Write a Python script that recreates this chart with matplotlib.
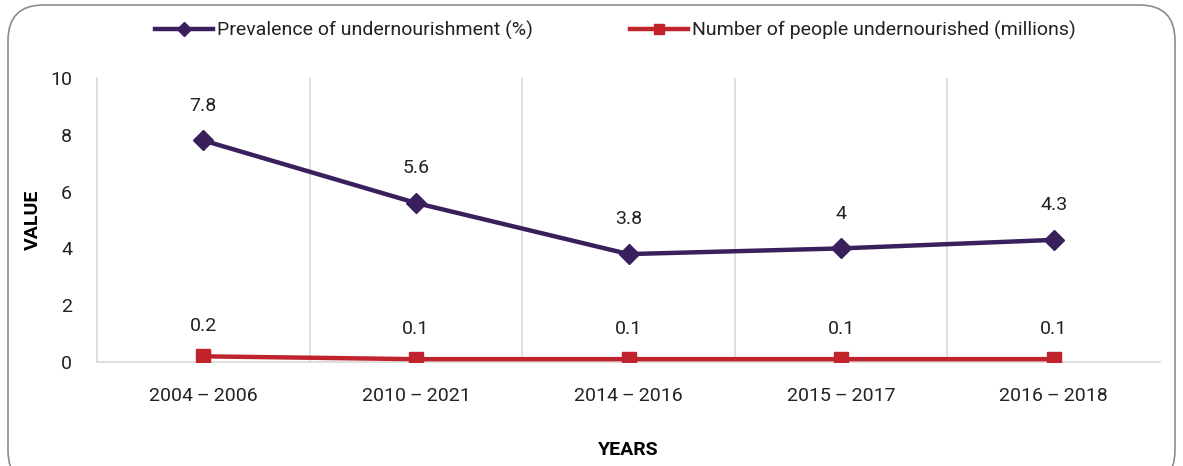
import matplotlib
matplotlib.use("Agg")
import matplotlib.pyplot as plt
from matplotlib.patches import FancyBboxPatch
from matplotlib import font_manager

categories = ["2004\u2009\u2013\u20092006", "2010\u2009\u2013\u20092021", "2014\u2009\u2013\u20092016",
              "2015\u2009\u2013\u20092017", "2016\u2009\u2013\u20092018"]
prevalence = [7.8, 5.6, 3.8, 4.0, 4.3]
prevalence_labels = ["7.8", "5.6", "3.8", "4", "4.3"]
people = [0.2, 0.1, 0.1, 0.1, 0.1]
people_labels = ["0.2", "0.1", "0.1", "0.1", "0.1"]

names = {f.name for f in font_manager.fontManager.ttflist}
fam = ['Liberation Sans Narrow', 'DejaVu Sans'] if 'Liberation Sans Narrow' in names else ['Roboto', 'DejaVu Sans']
plt.rcParams['font.family'] = fam

PURPLE = "#3a1f5d"
RED = "#c1232d"
TXT = "#222222"

fig = plt.figure(figsize=(11.83, 4.66), dpi=100)
W, H = 1183, 466
ax = fig.add_axes([97 / W, 1 - 362 / H, (1160 - 97) / W, (362 - 78) / H])

x = list(range(len(categories)))
ax.plot(x, prevalence, color=PURPLE, lw=3.2, marker="D", ms=10, label="Prevalence of undernourishment (%)", zorder=3)
ax.plot(x, people, color=RED, lw=3.2, marker="s", ms=10, label="Number of people undernourished (millions)", zorder=3)

for xi, v, lab in zip(x, prevalence, prevalence_labels):
    ax.annotate(lab, (xi, v), xytext=(0, 25), textcoords="offset points", ha="center", va="center", fontsize=14, color=TXT)
for xi, v, lab in zip(x, people, people_labels):
    ax.annotate(lab, (xi, v), xytext=(0, 22), textcoords="offset points", ha="center", va="center", fontsize=14, color=TXT)

ax.set_xlim(-0.5, len(categories) - 0.5)
ax.set_ylim(0, 10)
ax.set_yticks([0, 2, 4, 6, 8, 10])
ax.set_xticks(x)
ax.set_xticklabels(categories)
ax.tick_params(axis="both", length=0, labelsize=14, colors=TXT)
ax.tick_params(axis="y", pad=18)
ax.tick_params(axis="x", pad=18)

for b in [0.5, 1.5, 2.5, 3.5]:
    ax.axvline(b, color="#d9d9d9", lw=1.2, zorder=1)
for s in ["top", "right"]:
    ax.spines[s].set_visible(False)
ax.spines["left"].set_color("#d9d9d9")
ax.spines["left"].set_linewidth(1.2)
ax.spines["bottom"].set_color("#d9d9d9")
ax.spines["bottom"].set_linewidth(1.2)

ax.set_xlabel("YEARS", fontsize=14, fontweight="bold", color="black", labelpad=26)
fig.text(33 / W, 1 - 220 / H, "VALUE", rotation=90, ha="center", va="center", fontsize=14, fontweight="bold")

leg = fig.legend(loc="center", bbox_to_anchor=(0.52, 1 - 30 / H), ncol=2, frameon=False,
                 fontsize=14, handlelength=3.0, columnspacing=5.0, handletextpad=0.2, markerscale=0.75)
for t in leg.get_texts():
    t.set_color(TXT)

border = FancyBboxPatch((8 / W, -20 / H), (1175 - 8) / W, (466 - 5 + 20) / H,
                        boxstyle="round,pad=0,rounding_size=0.03", transform=fig.transFigure,
                        fill=False, edgecolor="#8c8c8c", lw=1.2, mutation_aspect=W / H)
fig.patches.append(border)

fig.savefig("out.png", dpi=100)
